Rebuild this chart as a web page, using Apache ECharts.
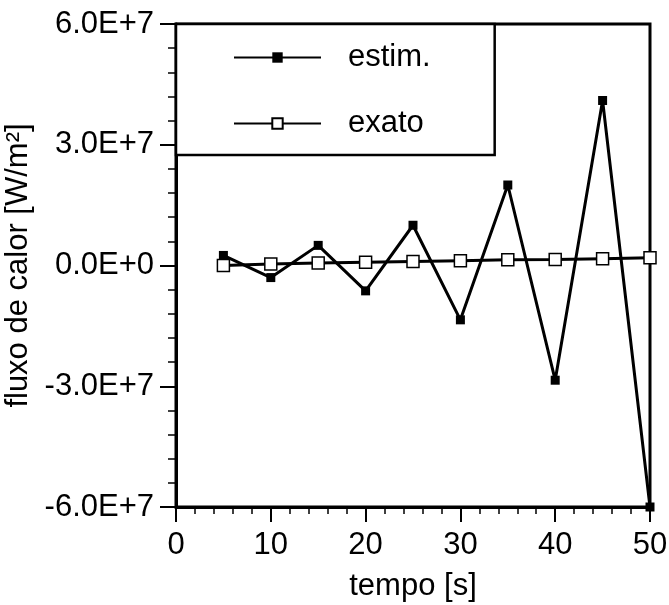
<!DOCTYPE html>
<html>
<head>
<meta charset="utf-8">
<script src="https://cdn.jsdelivr.net/npm/echarts@6/dist/echarts.min.js"></script>
<style>
html,body{margin:0;padding:0;background:#fff;}
#chart{width:669px;height:605px;}
</style>
</head>
<body>
<div id="chart"></div>
<script>
var tempo = [5, 10, 15, 20, 25, 30, 35, 40, 45, 50];
var estim = [2.5e6, -3.0e6, 5.0e6, -6.3e6, 1.0e7, -1.35e7, 2.0e7, -2.85e7, 4.1e7, -6.0e7];
var exato = [0, 4e5, 6e5, 8e5, 1.0e6, 1.2e6, 1.4e6, 1.5e6, 1.7e6, 1.9e6];
var seriesNames = ['estim.', 'exato'];
var xTitle = 'tempo [s]';
var yTitle = 'fluxo de calor [W/m²]';

function pairs(xs, ys) { return xs.map(function (x, i) { return [x, ys[i]]; }); }
function sciFmt(v) {
  if (v === 0) return '0.0E+0';
  var e = Math.floor(Math.log10(Math.abs(v)) + 1e-9);
  var m = v / Math.pow(10, e);
  return m.toFixed(1) + 'E' + (e >= 0 ? '+' : '-') + Math.abs(e);
}
var FONT = 'Liberation Sans';
var chart = echarts.init(document.getElementById('chart'), null, {renderer: 'canvas'});
chart.setOption({
  animation: false,
  backgroundColor: '#fff',
  textStyle: {fontFamily: FONT, color: '#000'},
  grid: {left: 176, right: 19, top: 24, bottom: 98, show: true, borderColor: '#000', borderWidth: 3,
         backgroundColor: 'transparent', containLabel: false, outerBoundsMode: 'none'},
  legend: {
    show: true,
    orient: 'vertical',
    left: 176, top: 24,
    padding: [18, 64, 16, 57],
    itemGap: 35,
    itemWidth: 87,
    itemHeight: 13,
    borderColor: '#000',
    borderWidth: 2.5,
    backgroundColor: '#fff',
    textStyle: {fontFamily: FONT, fontSize: 31, color: '#000', lineHeight: 31, padding: [0, 0, 0, 22]},
    data: seriesNames
  },
  xAxis: {
    type: 'value', min: 0, max: 50, interval: 10,
    name: xTitle, nameLocation: 'middle', nameGap: 64,
    nameTextStyle: {fontFamily: FONT, fontSize: 31, color: '#000'},
    axisLine: {show: true, onZero: false, lineStyle: {color: '#000', width: 3}},
    axisTick: {show: true, inside: false, length: 15, lineStyle: {color: '#000', width: 2}},
    minorTick: {show: true, splitNumber: 5, length: 7, lineStyle: {color: '#000', width: 1.5}},
    axisLabel: {fontFamily: FONT, fontSize: 31, color: '#000', margin: 23},
    splitLine: {show: false}
  },
  yAxis: {
    type: 'value', min: -6e7, max: 6e7, interval: 3e7,
    name: yTitle, nameLocation: 'middle', nameGap: 127,
    nameTextStyle: {fontFamily: FONT, fontSize: 31, color: '#000'},
    axisLine: {show: true, onZero: false, lineStyle: {color: '#000', width: 3}},
    axisTick: {show: true, inside: false, length: 16, lineStyle: {color: '#000', width: 2}},
    minorTick: {show: true, splitNumber: 5, length: 8, lineStyle: {color: '#000', width: 1.5}},
    axisLabel: {fontFamily: FONT, fontSize: 31, color: '#000', margin: 22, formatter: sciFmt},
    splitLine: {show: false}
  },
  series: [
    {
      name: seriesNames[0], type: 'line', data: pairs(tempo, estim),
      symbol: 'rect', symbolSize: 9, showAllSymbol: true,
      lineStyle: {color: '#000', width: 3},
      itemStyle: {color: '#000'},
      z: 2
    },
    {
      name: seriesNames[1], type: 'line', data: pairs(tempo, exato),
      symbol: 'rect', symbolSize: 12, showAllSymbol: true,
      lineStyle: {color: '#000', width: 3},
      itemStyle: {color: '#fff', borderColor: '#000', borderWidth: 1.5},
      z: 3
    }
  ]
});
</script>
</body>
</html>
